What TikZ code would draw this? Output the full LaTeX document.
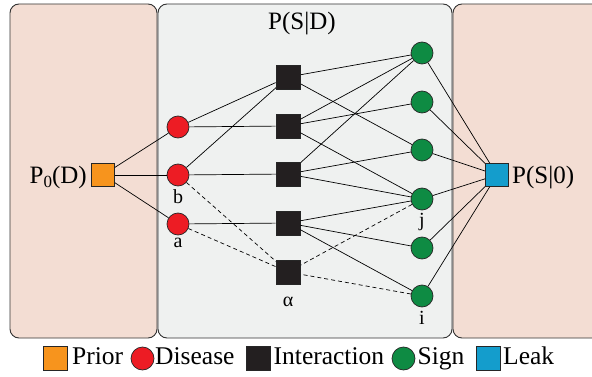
\documentclass[tikz,border=0pt]{standalone}
\usepackage{fontspec}
\setmainfont{Liberation Serif}
\definecolor{sidebg}{HTML}{F3DDD3}
\definecolor{midbg}{HTML}{EFF1F0}
\definecolor{cprior}{HTML}{F7941D}
\definecolor{cdis}{HTML}{ED1C24}
\definecolor{cint}{HTML}{231F20}
\definecolor{csign}{HTML}{0E8B43}
\definecolor{cleak}{HTML}{149DCC}
\definecolor{pborder}{HTML}{333333}
\tikzset{
  panel/.style={draw=pborder, line width=0.9pt, rounded corners=9pt},
  sq/.style={draw=black!85, line width=0.7pt, minimum size=23pt, inner sep=0pt},
  circ/.style={circle, draw=black!85, line width=0.7pt, minimum size=22pt, inner sep=0pt},
  prior/.style={sq, fill=cprior},
  dis/.style={circ, fill=cdis},
  inter/.style={sq, fill=cint, minimum size=24pt},
  sign/.style={circ, fill=csign},
  leak/.style={sq, fill=cleak},
  edge/.style={line width=0.7pt, black},
  dedge/.style={line width=0.7pt, black, dash pattern=on 4pt off 3pt},
  lbl/.style={font=\fontsize{25}{30}\selectfont, inner sep=0pt},
  small/.style={font=\fontsize{20}{24}\selectfont, inner sep=0pt},
  leg/.style={font=\fontsize{25.5}{30}\selectfont, inner sep=0pt, anchor=base west},
}
\begin{document}
\begin{tikzpicture}[x=1pt,y=-1pt]
\useasboundingbox (0,0) rectangle (592,377);
\clip (0,0) rectangle (592,377);
% panels
\draw[panel, fill=sidebg] (10,4) rectangle (157,338);
\draw[panel, fill=midbg] (158,4) rectangle (452,338);
\draw[panel, fill=sidebg] (453,4) rectangle (620,338);
% title
\node[lbl, anchor=base] (title) at (302,30) {P(S|D)};
% nodes
\node[prior] (P) at (103,175) {};
\node[lbl, anchor=base east] (Plab) at (87,183) {P\raisebox{-4pt}{\fontsize{17}{20}\selectfont 0}(D)};
\node[dis] (d1) at (178,127) {};
\node[dis] (d2) at (178,175) {};
\node[dis] (d3) at (178,224) {};
\node[inter] (i1) at (288,77) {};
\node[inter] (i2) at (288,126) {};
\node[inter] (i3) at (288,174) {};
\node[inter] (i4) at (288,223) {};
\node[inter] (ia) at (288,272) {};
\node[sign] (s1) at (422,53) {};
\node[sign] (s2) at (422,102) {};
\node[sign] (s3) at (422,150) {};
\node[sign] (s4) at (422,199) {};
\node[sign] (s5) at (422,248) {};
\node[sign] (s6) at (422,296) {};
\node[leak] (L) at (497,175) {};
\node[lbl, anchor=base west] (Llab) at (512,183) {P(S|0)};
% small labels
\node[small] (lb) at (178,197) {b};
\node[small] (la) at (178,243) {a};
\node[small] (lj) at (422,222) {j};
\node[small] (li) at (422,318) {i};
\node[small] (lal) at (288,302) {α};
% edges
\foreach \d in {d1,d2,d3} \draw[edge] (P) -- (\d);
\draw[edge] (d1) -- (i1);
\draw[edge] (d1) -- (i2);
\draw[edge] (d2) -- (i1.center);
\draw[edge] (d2) -- (i3.center);
\draw[edge] (d3) -- (i4);
\draw[dedge] (d2) -- (ia.center);
\draw[dedge] (d3) -- (ia);
\draw[edge] (i1) -- (s1);
\draw[edge] (i1) -- (s3);
\draw[edge] (i2) -- (s1);
\draw[edge] (i2) -- (s2);
\draw[edge] (i2) -- (s4);
\draw[edge] (i3) -- (s1);
\draw[edge] (i3) -- (s3);
\draw[edge] (i3) -- (s4);
\draw[edge] (i4) -- (s4);
\draw[edge] (i4) -- (s5);
\draw[edge] (i4) -- (s6);
\draw[dedge] (s4) -- (ia);
\draw[dedge] (s6) -- (ia);
\foreach \s in {s1,s2,s3,s4,s5,s6} \draw[edge] (\s) -- (L);
% redraw nodes on top
\node[inter] at (i1) {};
\node[inter] at (i3) {};
\node[inter] at (ia) {};
% legend
\node[prior, minimum size=24pt] (g1) at (55,358.5) {};
\node[leg] (t1) at (72,364.5) {Prior};
\node[dis, minimum size=23pt] (g2) at (142.5,358.5) {};
\node[leg] (t2) at (155,364.5) {Disease};
\node[inter, minimum size=24pt] (g3) at (258.5,358.5) {};
\node[leg] (t3) at (273.5,364.5) {Interaction};
\node[sign, minimum size=23pt] (g4) at (403.5,358.5) {};
\node[leg] (t4) at (417.5,364.5) {Sign};
\node[leak, minimum size=24pt] (g5) at (488.5,358.5) {};
\node[leg] (t5) at (503,364.5) {Leak};
\end{tikzpicture}
\end{document}
